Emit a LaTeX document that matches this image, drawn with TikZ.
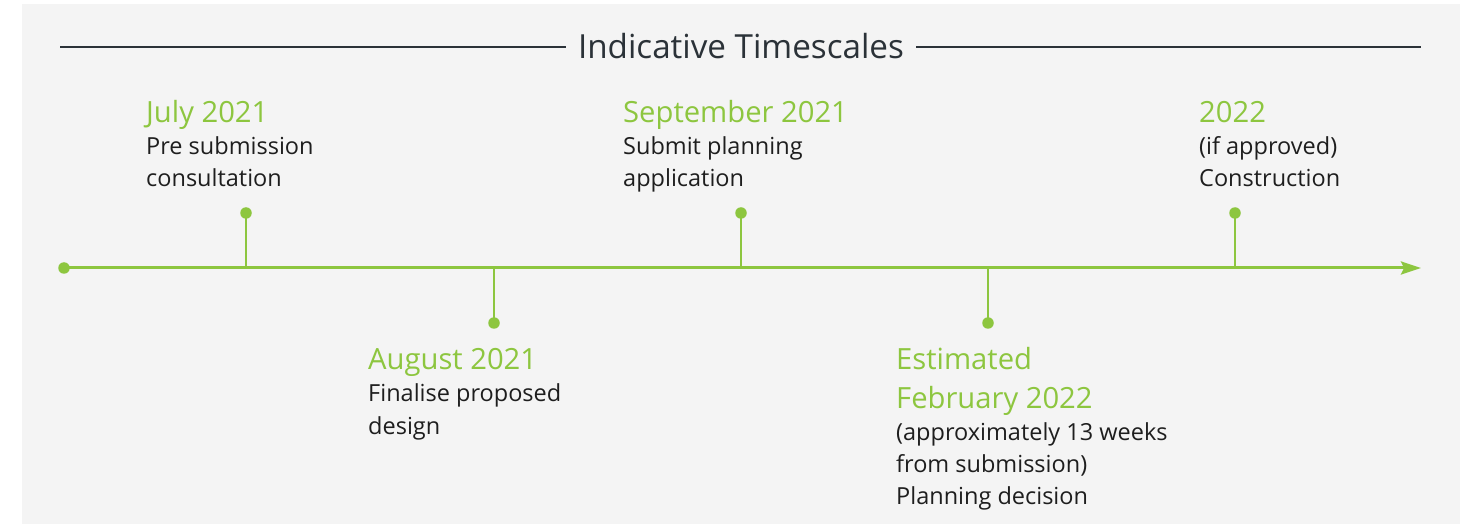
\documentclass[tikz,border=0pt]{standalone}
\usepackage{fontspec}
\setmainfont{Open Sans}
\usetikzlibrary{arrows.meta}
\definecolor{tlgreen}{HTML}{8DC63F}
\definecolor{tldark}{HTML}{2B3238}
\definecolor{tltext}{HTML}{1E1E1E}
\definecolor{tlbg}{HTML}{F4F4F4}
\begin{document}
\begin{tikzpicture}[x=1pt,y=-1pt,
  head/.style={anchor=base west,inner sep=0pt,text=tlgreen,font=\fontsize{29.2}{32}\selectfont},
  body/.style={anchor=base west,inner sep=0pt,text=tltext,font=\fontsize{23.5}{32}\selectfont},
  axis/.style={draw=tlgreen,line width=3pt},
  tick/.style={draw=tlgreen,line width=2.6pt},
  dotmark/.style={circle,fill=tlgreen,inner sep=0pt,minimum size=11.5pt},
  rule/.style={draw=tldark,line width=2.6pt}]
\useasboundingbox (0,0) rectangle (1465,529);
\fill[white] (0,0) rectangle (1465,529);
\fill[tlbg] (22,4) rectangle (1460,524);
% title
\node[anchor=base,inner sep=0pt,text=tldark,font=\fontsize{33.2}{36}\selectfont] (title) at (741,59) {Indicative Timescales};
\coordinate (tl) at (60,47);
\coordinate (tr) at (1421,47);
\draw[rule] (tl) -- ([xshift=-12pt]tl -| title.west);
\draw[rule] ([xshift=12pt]tr -| title.east) -- (tr);
% axis
\node[dotmark] (start) at (64,268) {};
\coordinate (end) at (1421,268);
\draw[axis,-{Stealth[length=20pt,width=13pt,inset=3pt]}] (start.center) -- (end);
% ticks
\coordinate (a1) at (246,268); \node[dotmark] (d1) at (246,213) {};
\coordinate (a2) at (494,268); \node[dotmark] (d2) at (494,323) {};
\coordinate (a3) at (741,268); \node[dotmark] (d3) at (741,213) {};
\coordinate (a4) at (988,268); \node[dotmark] (d4) at (988,323) {};
\coordinate (a5) at (1235,268); \node[dotmark] (d5) at (1235,213) {};
\foreach \i in {1,...,5} \draw[tick] (a\i) -- (d\i.center);
% texts
\node[head] (h1) at (146,123) {July 2021};
\node[body] (b1a) at (146,155) {Pre submission};
\node[body] (b1b) at (146,187) {consultation};
\node[head] (h2) at (368,370) {August 2021};
\node[body] (b2a) at (368,402) {Finalise proposed};
\node[body] (b2b) at (368,434) {design};
\node[head] (h3) at (623,123) {September 2021};
\node[body] (b3a) at (623,155) {Submit planning};
\node[body] (b3b) at (623,187) {application};
\node[head] (h4a) at (896,370) {Estimated};
\node[head] (h4b) at (896,408) {February 2022};
\node[body] (b4a) at (896,440) {(approximately 13 weeks};
\node[body] (b4b) at (896,472) {from submission)};
\node[body] (b4c) at (896,504) {Planning decision};
\node[head] (h5) at (1199,123) {2022};
\node[body] (b5a) at (1199,155) {(if approved)};
\node[body] (b5b) at (1199,187) {Construction};
\end{tikzpicture}
\end{document}
